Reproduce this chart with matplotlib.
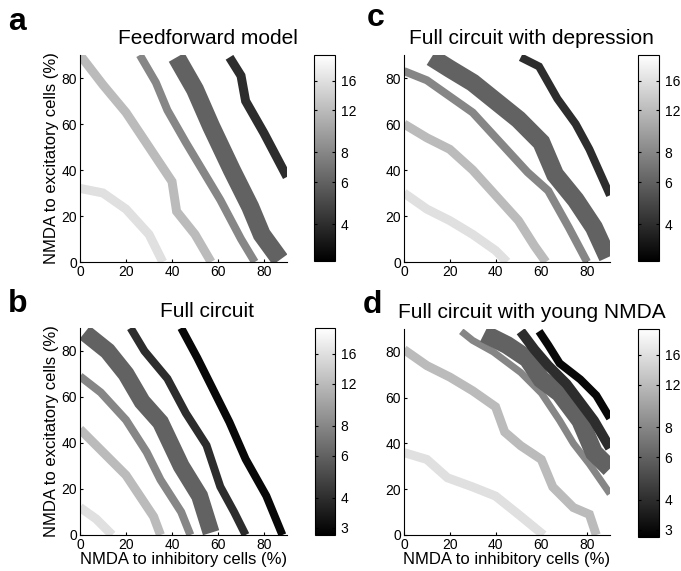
import numpy as np
import matplotlib
matplotlib.use("Agg")
import matplotlib.pyplot as plt
from matplotlib.colors import LogNorm

plt.rcParams['font.family'] = ['Liberation Sans', 'DejaVu Sans']

# colour scale of the iso-lines
V_MIN, V_MAX = 2.8, 20.5

# ---- panel a : Feedforward model ----
a_levels = [16, 12, 8, 6, 4]
a_x = [[0, 10, 20, 30, 36],
       [0, 10, 20, 30, 40, 42, 50, 57],
       [26, 33, 38, 46, 55, 61, 70, 76],
       [42, 50, 57, 66, 74, 79, 87],
       [65, 70, 72, 80, 90]]
a_y = [[32, 30, 23, 12, 0],
       [90, 77, 65, 50, 35, 22, 12, 0],
       [90, 78, 66, 52, 37, 27, 10, 0],
       [89, 75, 59, 40, 24, 12, 1],
       [89, 81, 70, 56, 37]]

# ---- panel b : Full circuit ----
b_levels = [16, 12, 8, 6, 4, 3]
b_x = [[0, 7, 14],
       [0, 9, 20, 26, 32, 35],
       [0, 9, 20, 29, 35, 44, 48],
       [2, 12, 20, 27, 35, 44, 52, 57],
       [22, 28, 38, 46, 55, 61, 67, 72],
       [44, 51, 58, 65, 72, 81, 88]]
b_y = [[12, 7, 0],
       [46, 37, 26, 17, 8, 0],
       [69, 62, 50, 36, 24, 10, 0],
       [88, 80, 70, 58, 49, 30, 17, 1],
       [90, 80, 68, 53, 39, 21, 10, 0],
       [90, 77, 63, 49, 33, 17, 0]]

# ---- panel c : Full circuit with depression ----
c_levels = [16, 12, 8, 6, 4]
c_x = [[0, 10, 20, 30, 40, 45],
       [0, 10, 20, 30, 40, 50, 57, 62],
       [0, 10, 20, 30, 42, 54, 63, 72, 80],
       [12, 20, 30, 40, 50, 60, 66, 75, 83, 89],
       [51, 59, 67, 75, 81, 90]]
c_y = [[30, 23, 18, 12, 5, 0],
       [60, 54, 49, 40, 29, 18, 7, 0],
       [83, 79, 72, 65, 52, 39, 31, 15, 0],
       [89, 84, 78, 70, 62, 52, 38, 27, 15, 2],
       [89, 85, 71, 60, 49, 29]]

# ---- panel d : Full circuit with young NMDA ----
d_levels = [16, 12, 8, 6, 4, 3]
d_x = [[0, 10, 19, 30, 40, 50, 61],
       [0, 10, 20, 30, 40, 44, 51, 60, 65, 74, 81, 84],
       [25, 30, 39, 51, 60, 68, 74, 81, 90],
       [35, 45, 54, 60, 68, 77, 83, 90],
       [51, 57, 63, 71, 77, 83, 90],
       [59, 63, 68, 77, 84, 90]]
d_y = [[36, 33, 25, 21, 17, 9, 0],
       [81, 74, 69, 63, 56, 45, 39, 33, 21, 12, 9, 0],
       [89, 85, 80, 71, 62, 50, 40, 31, 18],
       [88, 83, 77, 68, 62, 50, 36, 29],
       [89, 81, 74, 66, 58, 50, 38],
       [89, 83, 75, 68, 61, 51]]

x_label = "NMDA to inhibitory cells (%)"
y_label = "NMDA to excitatory cells (%)"

# (letter, title, levels, xs, ys, line widths in px, colorbar ticks)
panels = [
    ("a", "Feedforward model", a_levels, a_x, a_y, [9, 9, 8, 18, 9], [4, 6, 8, 12, 16]),
    ("c", "Full circuit with depression", c_levels, c_x, c_y, [9, 9, 8, 18, 8], [4, 6, 8, 12, 16]),
    ("b", "Full circuit", b_levels, b_x, b_y, [9, 9, 8, 17, 8, 8], [3, 4, 6, 8, 12, 16]),
    ("d", "Full circuit with young NMDA", d_levels, d_x, d_y, [9, 9, 7, 18, 10, 8], [3, 4, 6, 8, 12, 16]),
]

W, H = 681, 571
fig = plt.figure(figsize=(W / 100, H / 100), dpi=100)
norm = LogNorm(vmin=V_MIN, vmax=V_MAX)
cmap = plt.get_cmap("gray")

# pixel boxes (left, top, right, bottom)
ax_boxes = [(80, 55, 287, 262), (404, 55, 610, 262),
            (80, 328, 287, 535), (404, 329, 610, 535)]
cb_boxes = [(314, 55, 335, 261), (638, 55, 659, 261),
            (315, 328, 335, 535), (638, 329, 659, 537)]
letter_pos = [(8, 30), (367, 26), (8, 312), (363, 313)]


def px_rect(box):
    l, t, r, b = box
    return [l / W, 1 - b / H, (r - l) / W, (b - t) / H]


for idx, (letter, title, levels, xs, ys, widths, cticks) in enumerate(panels):
    ax = fig.add_axes(px_rect(ax_boxes[idx]))
    for lev, x, y, lw in zip(levels, xs, ys, widths):
        ax.plot(x, y, color=cmap(norm(lev)), lw=lw * 0.72,
                solid_capstyle='butt', solid_joinstyle='miter')
    ax.set_xlim(0, 90)
    ax.set_ylim(0, 90)
    ax.set_xticks([0, 20, 40, 60, 80])
    ax.set_yticks([0, 20, 40, 60, 80])
    ax.spines['top'].set_visible(False)
    ax.spines['right'].set_visible(False)
    ax.tick_params(direction='in', length=2.5, labelsize=10, pad=2)
    if idx in (0, 2):
        ax.set_ylabel(y_label, fontsize=12, labelpad=2)
    if idx in (2, 3):
        ax.set_xlabel(x_label, fontsize=12, labelpad=0)

    # colorbar
    cax = fig.add_axes(px_rect(cb_boxes[idx]))
    sm = plt.cm.ScalarMappable(norm=norm, cmap=cmap)
    cb = fig.colorbar(sm, cax=cax)
    cb.set_ticks(cticks)
    cb.set_ticklabels([str(t) for t in cticks])
    cax.minorticks_off()
    cax.tick_params(which='both', direction='in', left=True, right=True,
                    length=2.5, labelsize=10, pad=4)
    cb.outline.set_linewidth(0.8)

    # title centred over axes + colorbar
    l = ax_boxes[idx][0]
    r = cb_boxes[idx][2]
    fig.text((l + r) / 2 / W, 1 - (ax_boxes[idx][1] - 11) / H, title,
             ha='center', va='baseline', fontsize=15)
    fig.text(letter_pos[idx][0] / W, 1 - letter_pos[idx][1] / H, letter,
             ha='left', va='baseline', fontsize=23, fontweight='bold')

fig.savefig("out.png", dpi=100)
